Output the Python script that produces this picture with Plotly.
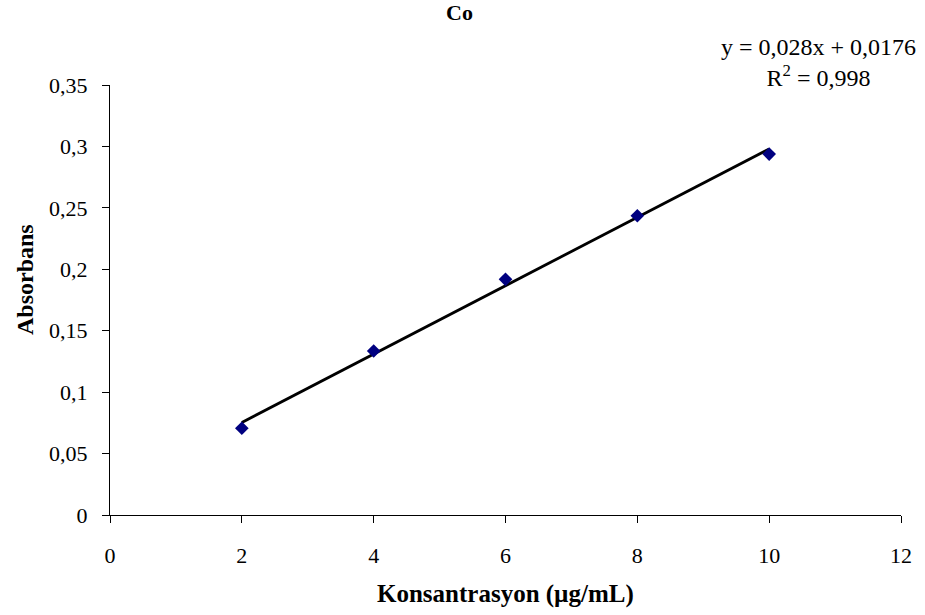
import numpy as np
import plotly.graph_objects as go

# Data
konsantrasyon = [2, 4, 6, 8, 10]
absorbans = [0.0706, 0.1335, 0.1918, 0.2436, 0.2938]

x_ticks = [0, 2, 4, 6, 8, 10, 12]
y_ticks = [0, 0.05, 0.1, 0.15, 0.2, 0.25, 0.3, 0.35]
y_ticklabels = ["0", "0,05", "0,1", "0,15", "0,2", "0,25", "0,3", "0,35"]

title_text = "Co"
x_title = "Konsantrasyon (µg/mL)"
y_title = "Absorbans"
equation_text = "y = 0,028x + 0,0176<br>R<sup>2</sup> = 0,998"

# Linear trendline
slope, intercept = np.polyfit(konsantrasyon, absorbans, 1)
xs = np.array([min(konsantrasyon), max(konsantrasyon)])
ys = slope * xs + intercept

FONT = "Liberation Serif, Times New Roman, serif"

fig = go.Figure()
fig.add_trace(go.Scatter(
    x=xs, y=ys, mode="lines",
    line=dict(color="black", width=2.8),
    showlegend=False, hoverinfo="skip"))
fig.add_trace(go.Scatter(
    x=konsantrasyon, y=absorbans, mode="markers",
    marker=dict(symbol="diamond", size=10.5, color="#000080",
                line=dict(width=0)),
    showlegend=False))

fig.update_layout(
    width=925, height=615,
    margin=dict(l=110, r=24, t=85, b=100),
    paper_bgcolor="white", plot_bgcolor="white",
    font=dict(family=FONT, size=22, color="black"),
    xaxis=dict(range=[0, 12], tickvals=x_ticks,
               ticktext=[str(v) for v in x_ticks],
               showgrid=False, zeroline=False,
               showline=True, linecolor="black", linewidth=1,
               ticks="outside", ticklen=7, tickcolor="black",
               ticklabelstandoff=14,
               tickfont=dict(family=FONT, size=22)),
    yaxis=dict(range=[0, 0.35], tickvals=y_ticks, ticktext=y_ticklabels,
               showgrid=False, zeroline=False,
               showline=True, linecolor="black", linewidth=1,
               ticks="outside", ticklen=7, tickcolor="black",
               ticklabelstandoff=10,
               tickfont=dict(family=FONT, size=22)),
    annotations=[
        dict(text="<b>" + title_text + "</b>", xref="paper", yref="paper",
             x=(459 - 110) / 791, y=(515 - 12) / 430, xanchor="center",
             yanchor="middle", showarrow=False,
             font=dict(family=FONT, size=22, color="black")),
        dict(text="<b>" + x_title + "</b>", xref="paper", yref="paper",
             x=0.5, y=(515 - 594) / 430, xanchor="center", yanchor="middle",
             showarrow=False,
             font=dict(family=FONT, size=25, color="black")),
        dict(text="<b>" + y_title + "</b>", xref="paper", yref="paper",
             x=(25 - 110) / 791, y=(515 - 280) / 430, xanchor="center",
             yanchor="middle", textangle=-90, showarrow=False,
             font=dict(family=FONT, size=24, color="black")),
        dict(text=equation_text, xref="paper", yref="paper",
             x=(818 - 110) / 791, y=(515 - 62) / 430,
             xanchor="center", yanchor="middle",
             showarrow=False, align="center",
             font=dict(family=FONT, size=24, color="black")),
    ],
)

fig.write_html("out.html")
